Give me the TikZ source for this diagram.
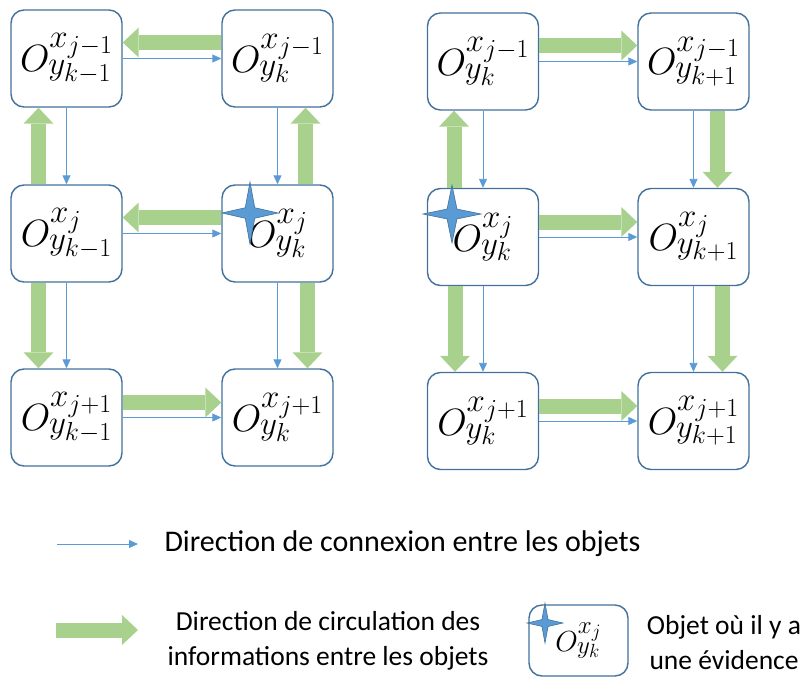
\RequirePackage{fix-cm}
\documentclass[tikz,border=0pt]{standalone}
\usepackage{fontspec}
\setmainfont{Carlito}
\usepackage{tikz}
\usetikzlibrary{arrows.meta}
\DeclareMathSizes{38}{38}{33}{26}
\DeclareMathSizes{29}{29}{25}{19}
\definecolor{boxblue}{HTML}{41719C}
\definecolor{linkblue}{HTML}{5B9BD5}
\definecolor{flowgreen}{HTML}{A9D18E}
\newcommand{\obj}[2]{\raisebox{-5pt}{$O^{x_{#1}}_{y_{#2}}$}}
\tikzset{
    objbox/.style={rectangle, rounded corners=13pt, draw=boxblue, line width=1.4pt, fill=white, minimum width=111pt, minimum height=97pt, inner sep=0pt, text centered, font=\fontsize{38}{42}\selectfont},
    connarrow/.style={-{Triangle[length=9pt, width=8pt]}, draw=linkblue, line width=0.9pt},
    flowarrow/.style={-{Triangle[length=16pt, width=30pt, line width=0pt]}, draw=flowgreen, line width=15pt},
    legendtext/.style={font=\fontsize{27.5}{35}\selectfont, align=center},
    evidence/.pic={\filldraw[fill=linkblue, draw=boxblue, line width=0.6pt] (0,-1) -- (0.17,-0.17) -- (1,0) -- (0.17,0.17) -- (0,1) -- (-0.17,0.17) -- (-1,0) -- (-0.17,-0.17) -- cycle;},
}

\begin{document}
\begin{tikzpicture}[x=1pt, y=-1pt]
    \useasboundingbox (0,0) rectangle (805,677);

    % left grid
    \node[objbox] (a11) at (66.5,58.5) {\obj{j-1}{k-1}};
    \node[objbox] (a12) at (277.5,58.5) {\obj{j-1}{k}};
    \node[objbox] (a21) at (66.5,233.5) {\obj{j}{k-1}};
    \node[objbox] (a22) at (277.5,233.5) {\obj{j}{k}};
    \node[objbox] (a31) at (66.5,417.5) {\obj{j+1}{k-1}};
    \node[objbox] (a32) at (277.5,417.5) {\obj{j+1}{k}};

    \draw[connarrow] (a11) -- (a12);
    \draw[connarrow] (a21) -- (a22);
    \draw[connarrow] (a31) -- (a32);
    \draw[connarrow] (a11) -- (a21);
    \draw[connarrow] (a21) -- (a31);
    \draw[connarrow] (a12) -- (a22);
    \draw[connarrow] (a22) -- (a32);

    \draw[flowarrow] ([yshift=16pt]a12.west) -- ([yshift=16pt]a11.east);
    \draw[flowarrow] ([yshift=16pt]a22.west) -- ([yshift=16pt]a21.east);
    \draw[flowarrow] ([yshift=15pt]a31.east) -- ([yshift=15pt]a32.west);
    \draw[flowarrow] ([xshift=-28pt]a21.north) -- ([xshift=-28pt]a11.south);
    \draw[flowarrow] ([xshift=28pt]a22.north) -- ([xshift=28pt]a12.south);
    \draw[flowarrow] ([xshift=-28pt]a21.south) -- ([xshift=-28pt]a31.north);
    \draw[flowarrow] ([xshift=30pt]a22.south) -- ([xshift=30pt]a32.north);

    \pic[xscale=28, yscale=31] at (250,213) {evidence};

    % right grid
    \node[objbox] (b11) at (483,61.5) {\obj{j-1}{k}};
    \node[objbox] (b12) at (693.5,61.5) {\obj{j-1}{k+1}};
    \node[objbox] (b21) at (483,237) {\obj{j}{k}};
    \node[objbox] (b22) at (693.5,237) {\obj{j}{k+1}};
    \node[objbox] (b31) at (483,421) {\obj{j+1}{k}};
    \node[objbox] (b32) at (693.5,421) {\obj{j+1}{k+1}};

    \draw[connarrow] (b11) -- (b12);
    \draw[connarrow] (b21) -- (b22);
    \draw[connarrow] (b31) -- (b32);
    \draw[connarrow] (b11) -- (b21);
    \draw[connarrow] (b21) -- (b31);
    \draw[connarrow] (b12) -- (b22);
    \draw[connarrow] (b22) -- (b32);

    \draw[flowarrow] ([yshift=16pt]b11.east) -- ([yshift=16pt]b12.west);
    \draw[flowarrow] ([yshift=15pt]b21.east) -- ([yshift=15pt]b22.west);
    \draw[flowarrow] ([yshift=15pt]b31.east) -- ([yshift=15pt]b32.west);
    \draw[flowarrow] ([xshift=-29pt]b21.north) -- ([xshift=-29pt]b11.south);
    \draw[flowarrow] ([xshift=24pt]b12.south) -- ([xshift=24pt]b22.north);
    \draw[flowarrow] ([xshift=-28pt]b21.south) -- ([xshift=-28pt]b31.north);
    \draw[flowarrow] ([xshift=29pt]b22.south) -- ([xshift=29pt]b32.north);

    \pic[xscale=29, yscale=29] at (452,214) {evidence};

    % legend
    \coordinate (conn start) at (57,544);
    \coordinate (conn end) at (138,544);
    \draw[connarrow] (conn start) -- (conn end);
    \node[legendtext, anchor=west, font=\fontsize{30}{35}\selectfont] (conntext) at (161,544) {Direction de connexion entre les objets};

    \coordinate (flow start) at (56,630);
    \coordinate (flow end) at (138,630);
    \draw[flowarrow] (flow start) -- (flow end);
    \node[legendtext] (flowtext) at (328,641) {Direction de circulation des\\informations entre les objets};

    \node[objbox, minimum width=99pt, minimum height=71pt, font=\fontsize{29}{32}\selectfont] (legbox) at (578.5,640.5) {\obj{j}{k}};
    \pic[xscale=18, yscale=20] at (545,623) {evidence};
    \node[legendtext] (evidtext) at (724,643) {Objet où il y a\\une évidence};
\end{tikzpicture}
\end{document}
